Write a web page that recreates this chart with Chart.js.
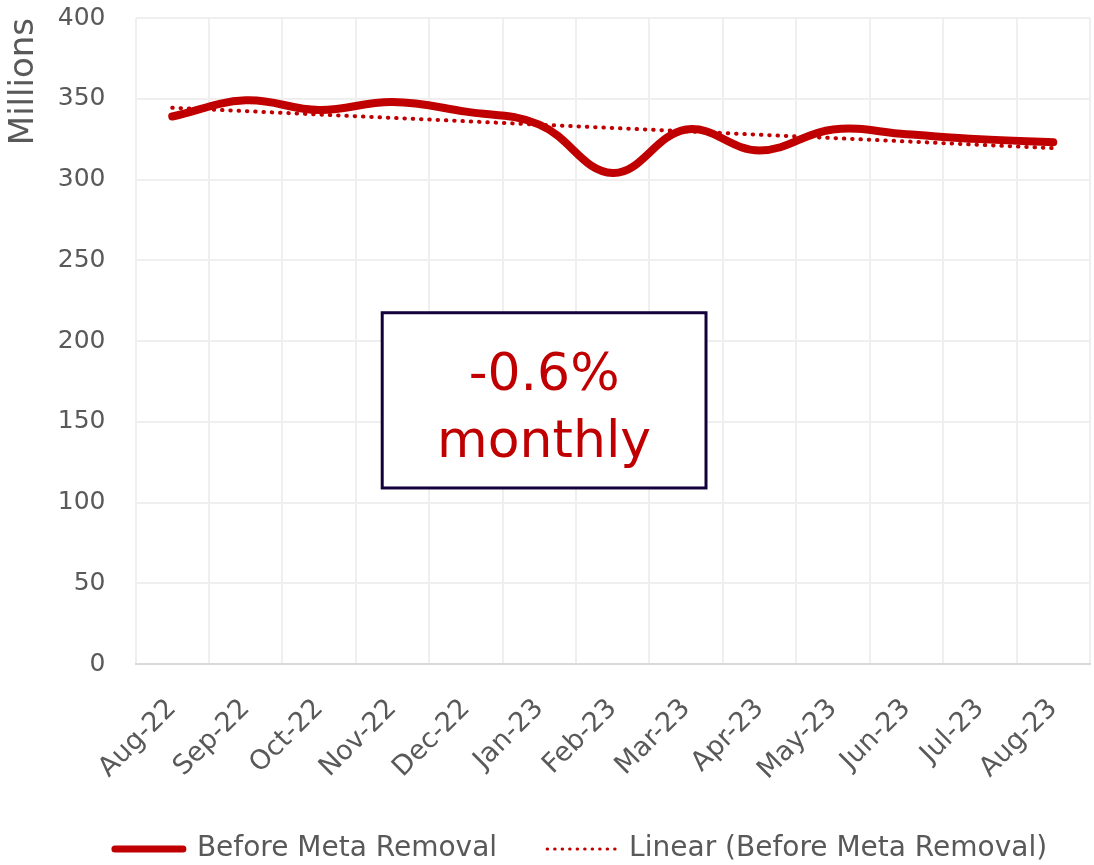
<!DOCTYPE html>
<html lang="en">
<head>
    <meta charset="UTF-8">
    <title>Before Meta Removal</title>
    <script src="https://cdn.jsdelivr.net/npm/chart.js@4.4.0/dist/chart.umd.min.js"></script>
    <style>
        html, body {
            margin: 0;
            padding: 0;
            background: #ffffff;
        }
        .chart-wrap {
            width: 1094px;
            height: 865px;
            position: relative;
        }
    </style>
</head>
<body>
    <div class="chart-wrap">
        <canvas id="chart"></canvas>
    </div>

    <script>
        // Monthly values, in millions
        const months = ['Aug-22', 'Sep-22', 'Oct-22', 'Nov-22', 'Dec-22', 'Jan-23', 'Feb-23',
                        'Mar-23', 'Apr-23', 'May-23', 'Jun-23', 'Jul-23', 'Aug-23'];
        const beforeMetaRemoval = [339, 349, 343, 348, 342, 334, 304, 331, 318, 331, 328, 325, 323];
        // Linear trend end points (first and last month)
        const trendStart = 344.4;
        const trendEnd = 319.4;
        const yTicks = [0, 50, 100, 150, 200, 250, 300, 350, 400];
        const calloutLines = ['-0.6%', 'monthly'];

        const RED = '#c00000';
        const GREY_TEXT = '#595959';
        const GRID = '#efefef';
        const FONT = "'DejaVu Sans', sans-serif";

        const trendData = months.map((m, i) =>
            i === 0 ? trendStart : (i === months.length - 1 ? trendEnd : null));

        // Legend tweaks: keep the legend low and nudge it right under the plot
        const legendTweak = {
            id: 'legendTweak',
            beforeLayout(chart) {
                const legend = chart.legend;
                if (legend && !legend._tweaked) {
                    const fit = legend.fit;
                    legend.fit = function () {
                        fit.call(this);
                        this.height -= 10;
                    };
                    legend._tweaked = true;
                }
            },
            afterLayout(chart) {
                if (chart.legend) {
                    chart.legend.left += 36;
                    chart.legend.right += 36;
                }
            }
        };

        // Boxed callout sitting in the middle of the plot
        const calloutPlugin = {
            id: 'callout',
            afterDatasetsDraw(chart) {
                const { ctx, scales: { x, y } } = chart;
                const left = x.getPixelForValue(2.86);
                const right = x.getPixelForValue(7.27);
                const top = y.getPixelForValue(217.5);
                const bottom = y.getPixelForValue(109);
                ctx.save();
                ctx.fillStyle = '#ffffff';
                ctx.fillRect(left, top, right - left, bottom - top);
                ctx.lineWidth = 3;
                ctx.strokeStyle = '#14003a';
                ctx.strokeRect(left, top, right - left, bottom - top);
                ctx.fillStyle = RED;
                ctx.font = "52px " + FONT;
                ctx.textAlign = 'center';
                ctx.textBaseline = 'alphabetic';
                const cx = (left + right) / 2;
                const cy = (top + bottom) / 2;
                ctx.fillText(calloutLines[0], cx, cy - 10);
                ctx.fillText(calloutLines[1], cx, cy + 57);
                ctx.restore();
            }
        };

        new Chart(document.getElementById('chart'), {
            type: 'line',
            data: {
                labels: months,
                datasets: [{
                    label: 'Before Meta Removal',
                    data: beforeMetaRemoval,
                    borderColor: RED,
                    backgroundColor: RED,
                    borderWidth: 8,
                    borderCapStyle: 'round',
                    tension: 0.4,
                    pointRadius: 0
                }, {
                    label: 'Linear (Before Meta Removal)',
                    data: trendData,
                    spanGaps: true,
                    borderColor: RED,
                    backgroundColor: RED,
                    borderWidth: 4,
                    borderDash: [0.5, 7.8],
                    borderCapStyle: 'round',
                    pointRadius: 0,
                    tension: 0
                }]
            },
            options: {
                responsive: true,
                maintainAspectRatio: false,
                animation: false,
                layout: {
                    padding: { top: 0, right: 4, left: 0, bottom: 2 }
                },
                plugins: {
                    tooltip: { enabled: false },
                    legend: {
                        position: 'bottom',
                        labels: {
                            color: GREY_TEXT,
                            font: { family: FONT, size: 28 },
                            usePointStyle: true,
                            pointStyleWidth: 68,
                            boxHeight: 28,
                            padding: 50,
                            // line samples: thick solid and thin dotted
                            generateLabels(chart) {
                                const items = Chart.defaults.plugins.legend.labels.generateLabels(chart);
                                items.forEach((item, i) => {
                                    item.pointStyle = 'line';
                                    item.strokeStyle = RED;
                                    item.lineCap = 'round';
                                    item.lineWidth = i === 0 ? 7 : 3;
                                    item.lineDash = i === 0 ? [] : [0.5, 7];
                                });
                                return items;
                            }
                        }
                    }
                },
                scales: {
                    x: {
                        offset: true,
                        grid: {
                            offset: true,
                            color: GRID,
                            lineWidth: 2,
                            drawTicks: true,
                            tickLength: 29,
                            tickColor: 'rgba(0,0,0,0)'
                        },
                        border: { color: '#d9d9d9', width: 2 },
                        ticks: {
                            color: GREY_TEXT,
                            font: { family: FONT, size: 27 },
                            minRotation: 45,
                            maxRotation: 45,
                            padding: 0,
                            autoSkip: false
                        },
                        afterFit(axis) {
                            axis.height = 121;
                        }
                    },
                    y: {
                        min: 0,
                        max: 400,
                        afterBuildTicks(axis) {
                            axis.ticks = yTicks.map(v => ({ value: v }));
                        },
                        grid: {
                            color: GRID,
                            lineWidth: 2,
                            drawTicks: true,
                            tickLength: 27,
                            tickColor: 'rgba(0,0,0,0)'
                        },
                        border: { display: false },
                        ticks: {
                            color: GREY_TEXT,
                            font: { family: FONT, size: 25 },
                            padding: 3
                        },
                        title: {
                            display: true,
                            text: 'Millions',
                            align: 'end',
                            color: GREY_TEXT,
                            font: { family: FONT, size: 34 },
                            padding: { top: 4, bottom: 10 }
                        }
                    }
                }
            },
            plugins: [legendTweak, calloutPlugin]
        });
    </script>
</body>
</html>
